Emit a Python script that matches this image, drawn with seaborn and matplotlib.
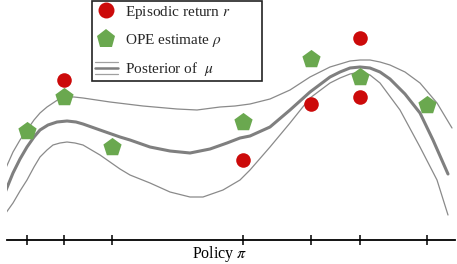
import numpy as np
import pandas as pd
import matplotlib
matplotlib.use("Agg")
import matplotlib.pyplot as plt
import seaborn as sns
from matplotlib.lines import Line2D
from matplotlib.legend_handler import HandlerBase

# ---------------- data (pixel-like units) ----------------
policy_ticks = [27, 64, 112, 243, 311, 360, 427]

return_x = [64, 243, 311, 360, 360]
return_y = [80, 160, 104, 38, 97]

ope_x = [27, 64, 112, 243, 311, 360, 427]
ope_y = [131, 97, 147, 122, 59, 77, 105]

mean_x = [4, 13, 20, 27, 34, 40, 48, 57, 67, 76, 83, 100, 120, 130, 150, 170, 190, 210, 227, 240,
          250, 270, 290, 310, 330, 340, 350, 360, 370, 380, 390, 405, 420, 433, 448]
mean_y = [195, 173, 159, 147, 137, 130, 125, 122, 121, 122, 124, 130, 137, 140, 147, 151, 153, 149, 143, 138,
          136, 127, 110, 92, 77, 72, 68, 67, 68, 72, 79, 94, 113, 140, 174]

upper_x = [5, 13, 20, 27, 34, 40, 47, 53, 59, 65, 74, 83, 110, 143, 177, 197, 220, 235, 250, 270, 290,
           310, 330, 340, 350, 360, 370, 380, 390, 405, 420, 437, 452]
upper_y = [170, 152, 140, 130, 120, 113, 107, 103, 99, 97, 97, 98, 102, 106, 109, 110, 107, 106, 104, 99, 90,
           77, 67, 64, 61, 60, 60, 62, 65, 72, 83, 103, 128]

lower_x = [3, 13, 20, 27, 34, 40, 47, 53, 60, 67, 75, 83, 100, 120, 130, 150, 170, 190, 203, 223, 240,
           250, 270, 290, 310, 330, 340, 350, 360, 370, 380, 400, 420, 437, 448]
lower_y = [217, 203, 191, 180, 167, 157, 150, 145, 143, 142, 143, 145, 155, 169, 175, 183, 192, 197, 197, 190, 180,
           170, 147, 123, 98, 83, 78, 74, 72, 75, 83, 110, 147, 180, 215]

# ---------------- style ----------------
sns.set_theme(style="white")
plt.rcParams["font.family"] = ["Liberation Serif", "DejaVu Serif"]
plt.rcParams["mathtext.fontset"] = "stix"

RED = "#cc0a0a"
GREEN = "#6aa84f"
GRAY = "#7f7f7f"
THIN = "#8a8a8a"

W, H = 457, 264
fig = plt.figure(figsize=(W / 100, H / 100), dpi=100)
x0, x1, ybase = 7, 455, 239.7
ax = fig.add_axes([x0 / W, (H - ybase) / H, (x1 - x0) / W, ybase / H])
ax.set_xlim(x0, x1)
ax.set_ylim(ybase, 0)

sns.lineplot(x=upper_x, y=upper_y, ax=ax, color=THIN, lw=0.9, sort=False, estimator=None)
sns.lineplot(x=lower_x, y=lower_y, ax=ax, color=THIN, lw=0.9, sort=False, estimator=None)
sns.lineplot(x=mean_x, y=mean_y, ax=ax, color=GRAY, lw=2.2, sort=False, estimator=None)

sns.scatterplot(x=return_x, y=return_y, ax=ax, color=RED, marker="o", s=110,
                linewidth=0, zorder=5)
sns.scatterplot(x=ope_x, y=ope_y, ax=ax, color=GREEN, marker="p", s=190,
                linewidth=0, zorder=6)

# axis: only bottom spine with crossing ticks
for side in ["left", "right", "top"]:
    ax.spines[side].set_visible(False)
ax.spines["bottom"].set_color("black")
ax.spines["bottom"].set_linewidth(1.3)
ax.set_yticks([])
ax.set_xticks(policy_ticks)
ax.set_xticklabels([])
ax.tick_params(axis="x", direction="inout", length=7.5, width=1.1, color="black",
               bottom=True)
ax.set_xlabel(r"Policy $\pi$", fontsize=11.5, color="black")
ax.xaxis.set_label_coords((220 - x0) / (x1 - x0), -0.02)


class TripleLineHandler(HandlerBase):
    def create_artists(self, legend, orig_handle, xdescent, ydescent, width, height,
                       fontsize, trans):
        yc = height / 2 - ydescent
        gap = 4.3
        arts = []
        for dy, lw, c in [(gap, 0.9, "#a0a0a0"), (0, 1.8, GRAY), (-gap, 0.9, "#a0a0a0")]:
            l = Line2D([-xdescent, -xdescent + width], [yc + dy, yc + dy], color=c, lw=lw)
            l.set_transform(trans)
            arts.append(l)
        return arts


h_ret = Line2D([], [], marker="o", color=RED, ls="none", markersize=11.5, markeredgewidth=0)
h_ope = Line2D([], [], marker="p", color=GREEN, ls="none", markersize=14, markeredgewidth=0)
h_post = Line2D([], [], color=GRAY)
leg = fig.legend([h_ret, h_ope, h_post],
                 [r"Episodic return $r$", r"OPE estimate $\rho$", r"Posterior of  $\mu$"],
                 handler_map={h_post: TripleLineHandler()},
                 loc="upper left", mode="expand",
                 bbox_to_anchor=(92 / W, 1 - 1 / H, 170 / W, 0.0),
                 bbox_transform=fig.transFigure,
                 fontsize=11, frameon=True, fancybox=False, framealpha=1,
                 edgecolor="#222222", borderpad=0.18, labelspacing=0.74,
                 handlelength=1.5, handletextpad=0.45, borderaxespad=0)
leg.get_frame().set_linewidth(1.2)

fig.savefig("out.png", dpi=100)
